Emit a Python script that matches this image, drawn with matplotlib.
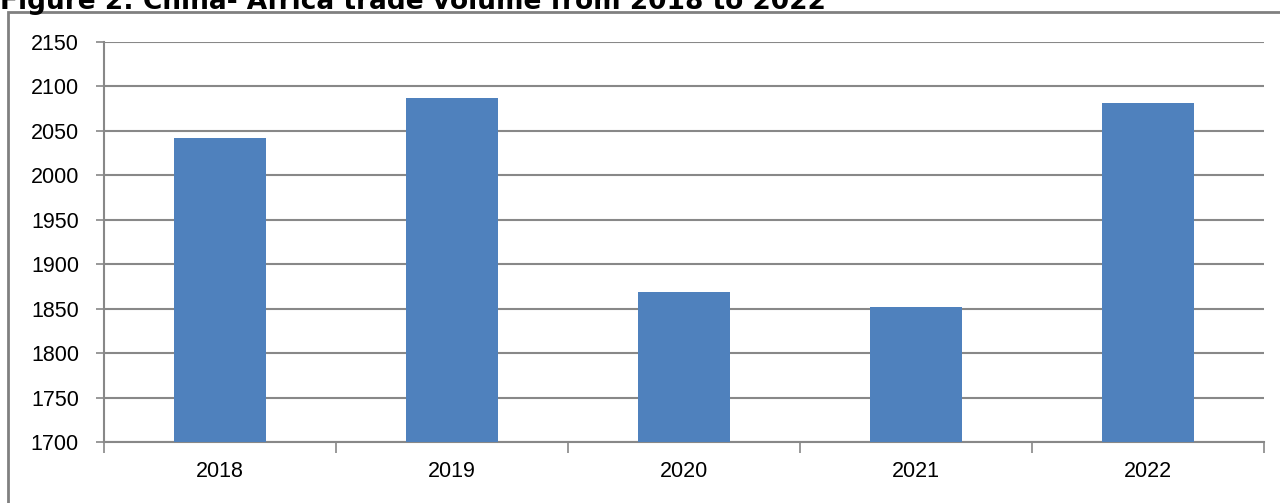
import matplotlib
matplotlib.use("Agg")
import matplotlib.pyplot as plt
from matplotlib.patches import Rectangle

years = ["2018", "2019", "2020", "2021", "2022"]
volume = [2042, 2087, 1869, 1852, 2081]
yticks = [1700, 1750, 1800, 1850, 1900, 1950, 2000, 2050, 2100, 2150]

fig = plt.figure(figsize=(12.8, 5.03), dpi=100)
ax = fig.add_axes([104 / 1280, 1 - 442 / 503, 1160 / 1280, 400 / 503])

# outer chart border (partly off the page, like the source)
fig.patches.append(Rectangle((8 / 1280, -0.05), 1.5, 1 - 12 / 503 + 0.05,
                             transform=fig.transFigure, fill=False,
                             edgecolor="#808080", linewidth=2))

fig.text(0.0, 1 - 9 / 503, "Figure 2: China- Africa trade volume from 2018 to 2022",
         fontsize=19, fontweight="bold", family="DejaVu Sans", va="baseline")

x = list(range(len(years)))
ax.bar(x, [v - 1700 for v in volume], bottom=1700, width=0.4, color="#4f81bd", zorder=3)

ax.set_ylim(1700, 2150)
ax.set_xlim(-0.5, len(years) - 0.5)
ax.set_yticks(yticks)
ax.set_yticklabels([str(t) for t in yticks], family="Liberation Sans", fontsize=15.5)
ax.yaxis.grid(True, color="#888888", linewidth=1.5, zorder=0)
ax.tick_params(axis="y", length=6, width=1.2, color="#888888", pad=12)

ax.set_xticks(x)
ax.set_xticklabels(years, family="Liberation Sans", fontsize=15.5)
ax.set_xticks([i + 0.5 for i in x[:-1]] + [-0.5, len(years) - 0.5], minor=True)
ax.tick_params(axis="x", which="major", length=0, pad=14)
ax.tick_params(axis="x", which="minor", length=8, width=1.2, color="#888888")

for s in ["top", "right"]:
    ax.spines[s].set_visible(False)
ax.spines["left"].set_color("#888888")
ax.spines["bottom"].set_color("#888888")
ax.spines["left"].set_linewidth(1.5)
ax.spines["bottom"].set_linewidth(1.5)

fig.savefig("out.png", dpi=100)
